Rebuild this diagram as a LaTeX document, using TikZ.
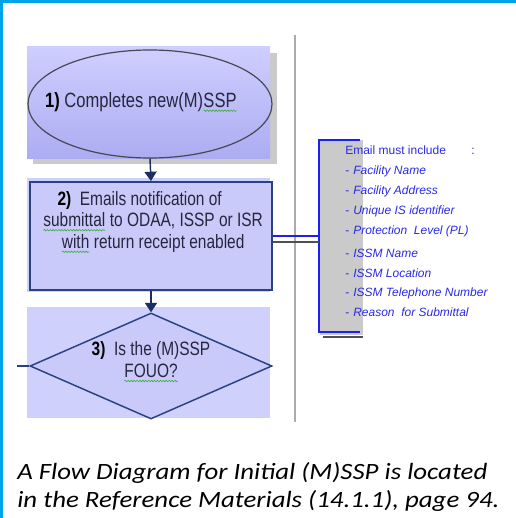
\documentclass[tikz,border=0pt]{standalone}
\usepackage{fontspec}
\setmainfont{Liberation Sans}
\newfontfamily\narrowsans[FakeStretch=0.8]{Liberation Sans}
\newfontfamily\notefont[FakeStretch=1.15]{Carlito}
\usetikzlibrary{arrows.meta,shapes.geometric,decorations.pathmorphing}

\definecolor{framecol}{RGB}{0,162,232}
\definecolor{dividergray}{RGB}{172,172,172}
\definecolor{shadowgray}{RGB}{202,202,202}
\definecolor{lavtop}{RGB}{206,206,255}
\definecolor{lavbot}{RGB}{172,172,242}
\definecolor{lavfill}{RGB}{202,202,250}
\definecolor{lavback}{RGB}{208,208,252}
\definecolor{edgeblue}{RGB}{40,66,130}
\definecolor{arrowcol}{RGB}{28,46,96}
\definecolor{ringgray}{RGB}{72,72,84}
\definecolor{textdark}{RGB}{38,38,62}
\definecolor{noteblue}{RGB}{42,42,228}
\definecolor{bracketblue}{RGB}{30,30,240}
\definecolor{wavegreen}{RGB}{60,170,60}
\definecolor{shadowdark}{RGB}{80,80,80}

% green spell-check wave under a word
\newsavebox\wavebox
\newlength\wavewd
\newcommand\spellwave[1]{\sbox\wavebox{#1}\setlength\wavewd{\wd\wavebox}%
  \tikz[baseline=0pt]{\node[inner sep=0pt, outer sep=0pt, anchor=base west] (w) at (0pt,0pt) {\usebox\wavebox};
    \draw[wavegreen, line width=0.45pt, decorate, decoration={snake, amplitude=0.55pt, segment length=2.2pt}]
      (0pt,-2.6pt) -- (\wavewd,-2.6pt);}}

\tikzset{
  steptext/.style={font=\narrowsans\fontsize{14.5}{16.2}\selectfont, text=textdark, align=center, inner sep=0pt},
  stepellipse/.style={ellipse, draw=ringgray, line width=0.9pt, top color=lavtop, bottom color=lavbot,
    minimum width=183pt, minimum height=81pt, inner sep=0pt},
  stepbox/.style={rectangle, draw=edgeblue, line width=1.4pt, fill=lavfill,
    minimum width=181.5pt, minimum height=81pt, inner sep=0pt},
  stepdiamond/.style={diamond, draw=edgeblue, line width=1.1pt, fill=lavfill,
    minimum width=181.5pt, minimum height=79.5pt, inner sep=0pt},
  flow/.style={draw=arrowcol, line width=1.1pt, -{Triangle[width=9pt,length=7pt]}},
  notetext/.style={font=\fontsize{9}{14.9}\selectfont, text=noteblue, align=left, inner sep=0pt},
  captext/.style={font=\notefont\itshape\fontsize{17.5}{21}\selectfont, anchor=base west, inner sep=0pt},
}

\begin{document}
\begin{tikzpicture}[x=0.75pt,y=-0.75pt]
\useasboundingbox (0,0) rectangle (516,518);

% page frame (top and left edges)
\fill[framecol] (0,0) rectangle (516,3);
\fill[framecol] (0,0) rectangle (3,518);

% vertical divider
\draw[dividergray, line width=1.5pt] (295,35) -- (295,422);

% step 1: start ellipse on a shaded panel
\fill[shadowgray] (33,53) rectangle (277,164);
\shade[top color=lavtop, bottom color=lavbot] (27,46) rectangle (270,158);
\node[stepellipse] (s1) at (150,104) {};
\node[steptext, font=\narrowsans\fontsize{15.5}{17}\selectfont] (s1text) at (141,102)
  {{\bfseries\color{black}1)} Completes new(M)\spellwave{SSP}};

% step 2: notification box
\fill[lavback] (27,178) rectangle (270,292);
\node[stepbox] (s2) at (151,236) {};
\node[steptext] (s2text) at (153,222) {{\bfseries\color{black}2)}\ \ Emails notification of\hspace*{20pt}\\
  \spellwave{submittal} to ODAA, ISSP or ISR\\
  \spellwave{with} return receipt enabled};

% step 3: decision
\fill[lavback] (27,307) rectangle (270,418);
\node[stepdiamond] (s3) at (151,366) {};
\node[steptext] (s3text) at (151,362) {{\bfseries\color{black}3)}\ \ Is the (M)SSP\\ \spellwave{FOUO?}};
\coordinate (s3in) at (17,366);
\draw[edgeblue, line width=1.1pt] (s3in) -- (s3.west);

% flow arrows
\draw[flow] (s1.south) -- (s2.north);
\draw[flow] (s2.south) -- (s3.north);

% annotation bracket with the required e-mail contents
\fill[shadowgray] (320,140) rectangle (363,335);
\draw[shadowdark, line width=1.4pt] (323,337) -- (363,337);
\draw[bracketblue, line width=1.4pt] (360,140) -- (319,140) -- (319,332) -- (360,332);
\coordinate (brk) at (319,236);
\draw[shadowdark, line width=1.4pt] ([yshift=-4.5pt]s2.east) -- ([yshift=-4.5pt]brk);
\draw[bracketblue, line width=1.4pt] (s2.east) -- (brk);

\node[notetext, anchor=north west] (note) at (345,146) {%
  Email must include\hspace{19pt}:\\
  -\hspace{3pt}\textit{Facility Name}\\
  -\hspace{3pt}\textit{Facility Address}\\
  -\hspace{3pt}\textit{Unique IS identifier}\\
  -\hspace{3pt}\textit{Protection\ \ Level (PL)}\\[2.2pt]
  -\hspace{3pt}\textit{ISSM Name}\\
  -\hspace{3pt}\textit{ISSM Location}\\
  -\hspace{3pt}\textit{ISSM Telephone Number}\\
  -\hspace{3pt}\textit{Reason\ \ for Submittal}};

% closing note
\node[captext] (cap1) at (17,479) {A Flow Diagram for Initial (M)SSP is located};
\node[captext] (cap2) at (17,507) {in the Reference Materials (14.1.1), page 94.};
\end{tikzpicture}
\end{document}
